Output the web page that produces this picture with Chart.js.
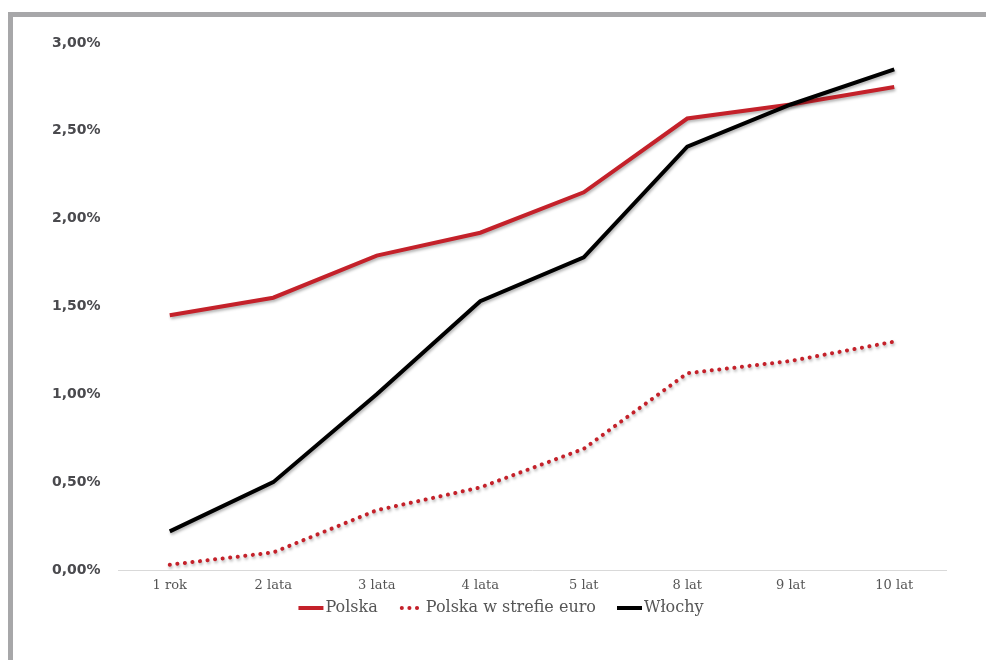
<!DOCTYPE html>
<html>
<head>
<meta charset="utf-8">
<script src="https://cdn.jsdelivr.net/npm/chart.js@4/dist/chart.umd.min.js"></script>
<style>
  html, body { margin: 0; padding: 0; background: #ffffff; }
  #wrap { position: relative; width: 986px; height: 660px; overflow: hidden; }
  #c { position: absolute; left: 0; top: 0; }
  .frame { position: absolute; background: #a7a7a9; z-index: 2; }
</style>
</head>
<body>
<div id="wrap">
  <canvas id="c" width="986" height="660"></canvas>
  <div class="frame" style="left:8px; top:12px; width:978px; height:5px;"></div>
  <div class="frame" style="left:8px; top:12px; width:5px; height:648px;"></div>
</div>
<script>
// Maturities on the horizontal axis
const maturities = ['1 rok', '2 lata', '3 lata', '4 lata', '5 lat', '8 lat', '9 lat', '10 lat'];

// Yields in percent
const polska      = [1.45, 1.55, 1.79, 1.92, 2.15, 2.57, 2.65, 2.75];
const polskaEuro  = [0.03, 0.10, 0.34, 0.47, 0.69, 1.12, 1.19, 1.30];
const wlochy      = [0.22, 0.50, 1.00, 1.53, 1.78, 2.41, 2.65, 2.85];

const seriesNames = ['Polska', 'Polska w strefie euro', 'Włochy'];

const RED = '#c4212a';
const BLACK = '#000000';

// Soft drop shadow under the lines
const lineShadow = {
  id: 'lineShadow',
  beforeDatasetsDraw(chart) {
    const ctx = chart.ctx;
    ctx.save();
    ctx.shadowColor = 'rgba(0,0,0,0.30)';
    ctx.shadowBlur = 3;
    ctx.shadowOffsetX = 1;
    ctx.shadowOffsetY = 2;
  },
  afterDatasetsDraw(chart) {
    chart.ctx.restore();
  }
};

// Legend row under the axis: line samples followed by the series name
const bottomLegend = {
  id: 'bottomLegend',
  afterDraw(chart) {
    const ctx = chart.ctx;
    const font = '16px "DejaVu Serif", serif';
    ctx.save();
    ctx.font = font;
    const sampleW = 25, textGap = 2, itemGap = 21;
    const order = [0, 1, 2];
    const items = order.map(i => {
      const ds = chart.data.datasets[i];
      return { ds, w: sampleW + textGap + ctx.measureText(ds.label).width };
    });
    const total = items.reduce((s, it) => s + it.w, 0) + itemGap * (items.length - 1);
    let x = 501 - total / 2;
    const y = 608;
    items.forEach(it => {
      const ds = it.ds;
      ctx.strokeStyle = ds.borderColor;
      ctx.lineWidth = 4;
      if (ds.borderDash && ds.borderDash.length) {
        ctx.lineCap = 'round';
        ctx.setLineDash([0.1, 7.5]);
        ctx.beginPath();
        ctx.moveTo(x + 3, y);
        ctx.lineTo(x + sampleW - 3, y);
        ctx.stroke();
        ctx.setLineDash([]);
      } else {
        ctx.lineCap = 'butt';
        ctx.beginPath();
        ctx.moveTo(x, y);
        ctx.lineTo(x + sampleW, y);
        ctx.stroke();
      }
      ctx.fillStyle = '#555555';
      ctx.textBaseline = 'middle';
      ctx.textAlign = 'left';
      ctx.fillText(ds.label, x + sampleW + textGap, y);
      x += it.w + itemGap;
    });
    ctx.restore();
  }
};

new Chart(document.getElementById('c'), {
  type: 'line',
  data: {
    labels: maturities,
    datasets: [
      {
        label: seriesNames[0],
        data: polska,
        borderColor: RED,
        backgroundColor: RED,
        borderWidth: 4,
        pointRadius: 0,
        tension: 0,
        order: 2
      },
      {
        label: seriesNames[1],
        data: polskaEuro,
        borderColor: RED,
        backgroundColor: RED,
        borderWidth: 4,
        borderDash: [0.1, 7.5],
        borderCapStyle: 'round',
        pointRadius: 0,
        tension: 0,
        order: 3
      },
      {
        label: seriesNames[2],
        data: wlochy,
        borderColor: BLACK,
        backgroundColor: BLACK,
        borderWidth: 4,
        pointRadius: 0,
        tension: 0,
        order: 1
      }
    ]
  },
  options: {
    responsive: false,
    animation: false,
    layout: { padding: { left: 52, right: 40, top: 43, bottom: 0 } },
    plugins: {
      legend: { display: false },
      tooltip: { enabled: false }
    },
    scales: {
      x: {
        offset: true,
        grid: { display: false, drawTicks: false },
        border: { display: true, color: '#d9d9d9', width: 1 },
        ticks: {
          padding: 8,
          color: '#555555',
          font: { family: '"DejaVu Serif", serif', size: 13 }
        },
        afterFit(scale) { scale.height = 90; }
      },
      y: {
        min: 0,
        max: 3,
        grid: { display: false, drawTicks: false },
        border: { display: false },
        ticks: {
          stepSize: 0.5,
          crossAlign: 'far',
          color: '#4a4a4e',
          font: { family: '"DejaVu Sans", sans-serif', size: 14, weight: 'bold' },
          callback: v => v.toFixed(2).replace('.', ',') + '%'
        },
        afterFit(scale) { scale.width = 66; }
      }
    }
  },
  plugins: [lineShadow, bottomLegend]
});
</script>
</body>
</html>
